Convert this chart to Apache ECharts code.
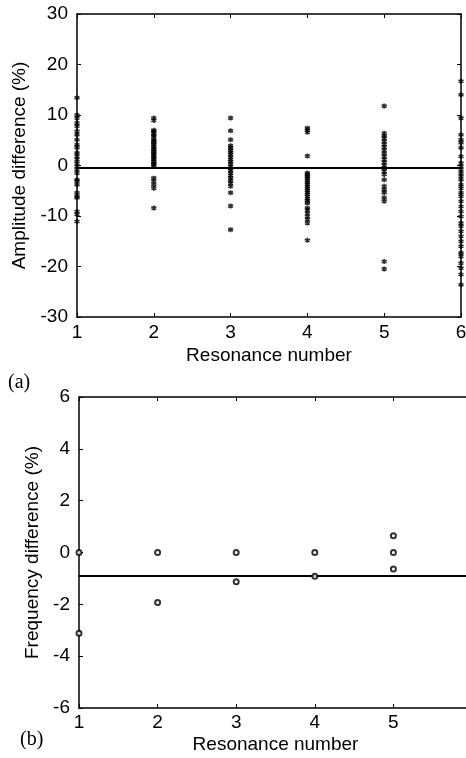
<!DOCTYPE html>
<html>
<head>
<meta charset="utf-8">
<script src="https://cdn.jsdelivr.net/npm/echarts@6/dist/echarts.min.js"></script>
<style>
html,body{margin:0;padding:0;background:#fff;overflow:hidden;}
#c{width:466px;height:758px;}
</style>
</head>
<body>
<div id="c"></div>
<script>
// ---- data ----
const resonances = [1, 2, 3, 4, 5, 6];
const amp1 = [13.4, 10.0, 9.4, 8.4, 7.8, 6.8, 6.1, 5.1, 4.1, 3.5, 2.5, 1.8, 1.2, 0.5, -0.2, -0.8, -1.5, -2.8, -3.1, -3.8, -5.4, -6.1, -6.4, -9.1, -9.7, -11.1];
const amp2 = [9.4, 8.9, 7.0, 6.8, 6.4, 6.0, 5.8, 5.1, 4.9, 4.5, 4.2, 3.8, 3.5, 3.1, 2.8, 2.5, 2.1, 1.8, 1.5, 1.2, 0.8, 0.5, 0.2, 0.0, -2.5, -3.1, -3.8, -4.5, -8.4];
const amp3 = [9.4, 6.9, 5.1, 3.9, 3.5, 3.0, 2.6, 2.2, 1.7, 1.2, 0.8, 0.3, -0.2, -0.6, -1.0, -1.5, -2.0, -2.5, -3.0, -3.5, -4.1, -5.4, -8.0, -12.7];
const amp4 = [7.4, 7.0, 6.6, 1.9, -1.5, -1.8, -2.1, -2.5, -2.9, -3.3, -3.7, -4.1, -4.5, -4.9, -5.3, -5.7, -6.1, -6.6, -7.0, -7.4, -8.4, -8.8, -9.4, -10.1, -10.7, -11.4, -14.8];
const amp5 = [11.8, 6.4, 5.9, 5.4, 4.8, 4.2, 3.6, 3.0, 2.4, 1.8, 1.2, 0.6, 0.0, -0.6, -1.2, -1.8, -2.8, -4.1, -4.8, -5.4, -6.4, -7.1, -19.0, -20.5];
const amp6 = [16.7, 14.0, 9.4, 6.1, 5.1, 4.5, 3.5, 1.8, 0.5, -0.2, -0.8, -1.5, -2.1, -2.8, -3.8, -4.5, -5.4, -6.1, -7.1, -8.1, -9.1, -10.1, -11.4, -12.0, -13.0, -14.0, -15.0, -16.0, -17.3, -18.0, -19.3, -20.3, -21.6, -23.6];
const ampMean = -0.5;

const freq1 = [0, 0, -3.12, -3.12];
const freq2 = [0, 0, -1.93, -1.93];
const freq3 = [0, 0, -1.13, -1.13];
const freq4 = [0, 0, -0.92, -0.92];
const freq5 = [0.65, 0, 0, -0.64, -0.64];
const freqMean = -0.91;

const ampTicks = [-30, -20, -10, 0, 10, 20, 30];
const freqTicks = [-6, -4, -2, 0, 2, 4, 6];

// ---- build ----
const ampSets = [amp1, amp2, amp3, amp4, amp5, amp6];
const freqSets = [freq1, freq2, freq3, freq4, freq5];
const ampData = [];
ampSets.forEach((arr, i) => arr.forEach(v => ampData.push([resonances[i], v])));
const freqData = [];
freqSets.forEach((arr, i) => {
  const seen = {};
  arr.forEach(v => { seen[v] = (seen[v] || 0) + 1; });
  Object.keys(seen).forEach(k => {
    freqData.push({ value: [resonances[i], Number(k)], itemStyle: { borderWidth: seen[k] > 1 ? 1.8 : 1 } });
  });
});

const FONT = 'Liberation Sans, Arial, sans-serif';
const FS = 19;
const black = '#000';
function xAxisBase(gi, pos, showLabel, name, margin, gap) {
  return {
    type: 'value', gridIndex: gi, position: pos, min: 1, max: 6, interval: 1,
    axisLine: { show: true, onZero: false, lineStyle: { color: black, width: 1.5 } },
    axisTick: { show: true, inside: true, length: 4, lineStyle: { color: black, width: 1 } },
    axisLabel: { show: showLabel, color: black, fontSize: FS, fontFamily: FONT, margin: margin || 6, hideOverlap: false },
    splitLine: { show: false },
    name: name || '', nameLocation: 'middle', nameGap: gap || 28,
    nameTextStyle: { color: black, fontSize: FS, fontFamily: FONT }
  };
}
function yAxisBase(gi, pos, showLabel, ticks, interval, name, gap) {
  return {
    type: 'value', gridIndex: gi, position: pos, min: ticks[0], max: ticks[ticks.length - 1], interval: interval,
    axisLine: { show: true, onZero: false, lineStyle: { color: black, width: 1.5 } },
    axisTick: { show: true, inside: true, length: 4, lineStyle: { color: black, width: 1 } },
    axisLabel: { show: showLabel, color: black, fontSize: FS, fontFamily: FONT, margin: 9 },
    splitLine: { show: false },
    name: name || '', nameLocation: 'middle', nameGap: gap || 40, nameRotate: 90,
    nameTextStyle: { color: black, fontSize: FS, fontFamily: FONT }
  };
}

const chart = echarts.init(document.getElementById('c'), null, { renderer: 'canvas' });
chart.setOption({
  backgroundColor: '#fff',
  animation: false,
  grid: [
    { left: 77, top: 14, width: 384, height: 303, containLabel: false, outerBoundsMode: 'none' },
    { left: 79, top: 397, width: 393, height: 311, containLabel: false, outerBoundsMode: 'none' }
  ],
  xAxis: [
    xAxisBase(0, 'bottom', true, 'Resonance number', 6, 29),
    xAxisBase(0, 'top', false),
    xAxisBase(1, 'bottom', true, 'Resonance number', 5, 27),
    xAxisBase(1, 'top', false)
  ],
  yAxis: [
    yAxisBase(0, 'left', true, ampTicks, 10, 'Amplitude difference (%)', 42),
    yAxisBase(0, 'right', false, ampTicks, 10),
    yAxisBase(1, 'left', true, freqTicks, 2, 'Frequency difference (%)', 33),
    yAxisBase(1, 'right', false, freqTicks, 2)
  ],
  graphic: [
    { type: 'text', left: 8, top: 373, style: { text: '(a)', font: '20px "Liberation Serif", "Times New Roman", serif', fill: black } },
    { type: 'text', left: 20, top: 730, style: { text: '(b)', font: '20px "Liberation Serif", "Times New Roman", serif', fill: black } }
  ],
  series: [
    {
      type: 'line', xAxisIndex: 0, yAxisIndex: 0, data: [[1, ampMean], [6, ampMean]],
      symbol: 'none', lineStyle: { color: black, width: 2 }, z: 3
    },
    {
      type: 'scatter', xAxisIndex: 0, yAxisIndex: 0, data: ampData, clip: false,
      symbol: 'path://M0,-10L0,10M-8.66,-5L8.66,5M-8.66,5L8.66,-5',
      symbolSize: 5,
      itemStyle: { color: 'none', borderColor: black, borderWidth: 1.7 }, z: 4
    },
    {
      type: 'line', xAxisIndex: 2, yAxisIndex: 2, data: [[1, freqMean], [6, freqMean]],
      symbol: 'none', lineStyle: { color: black, width: 2 }, z: 3
    },
    {
      type: 'scatter', xAxisIndex: 2, yAxisIndex: 2, data: freqData, clip: false,
      symbol: 'emptyCircle', symbolSize: 5,
      itemStyle: { color: black, borderColor: black, borderWidth: 1.5 }, z: 4
    }
  ]
});
</script>
</body>
</html>
